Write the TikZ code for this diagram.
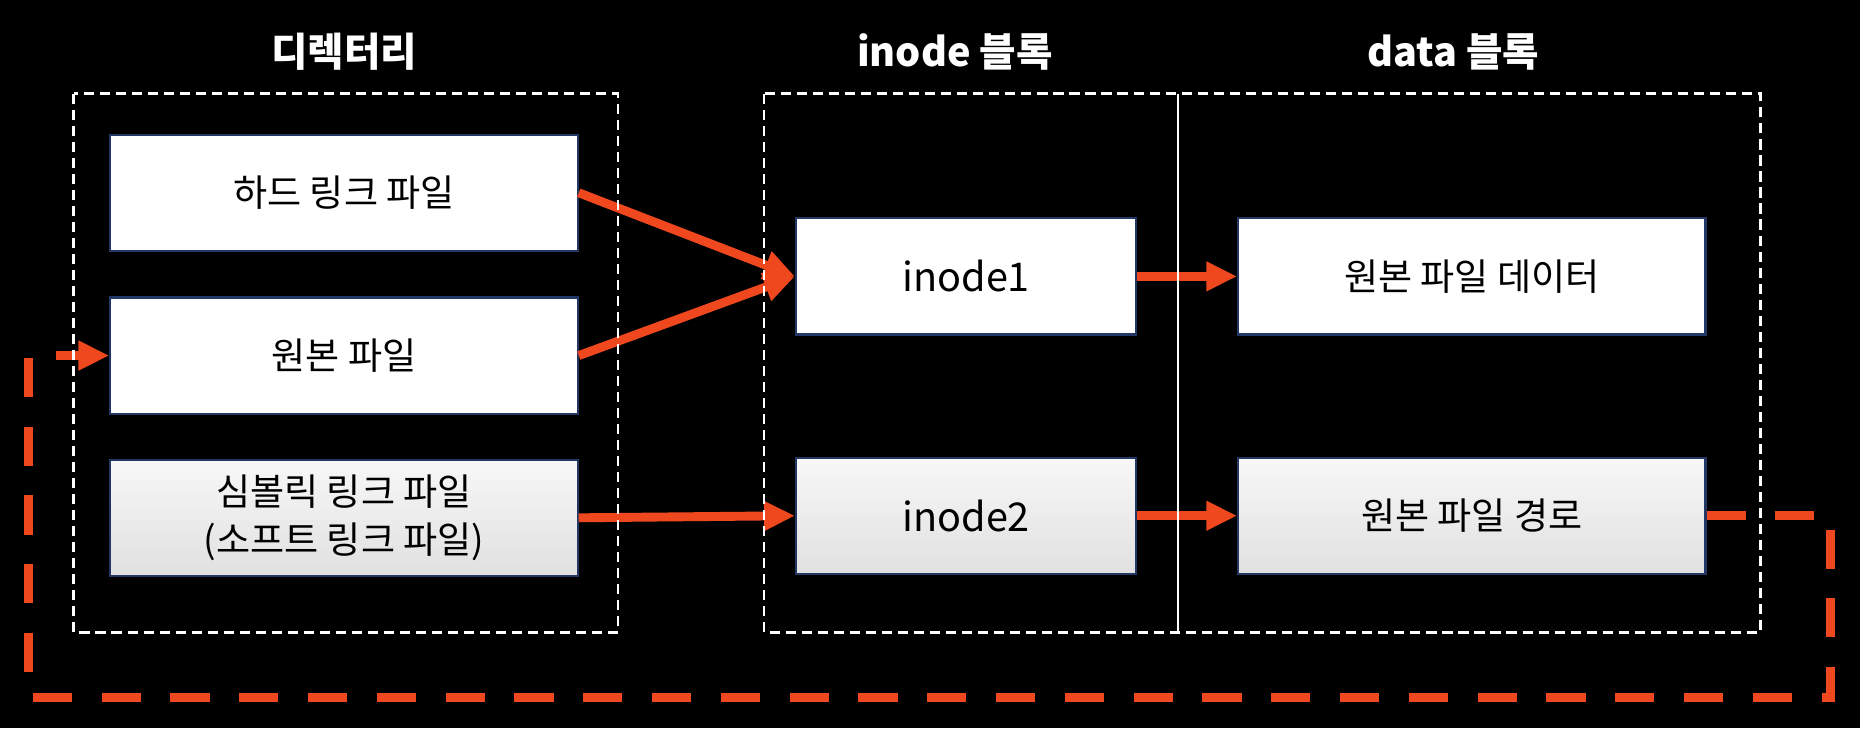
\documentclass[tikz,border=0pt]{standalone}
\usepackage{fontspec}
\usepackage{tikz}
\usetikzlibrary{positioning,arrows.meta}
\newfontfamily\krfont{Noto Sans CJK KR}
\definecolor{linkred}{RGB}{240,72,30}
\definecolor{boxedge}{RGB}{35,55,100}

\begin{document}
\begin{tikzpicture}[x=0.1mm, y=0.1mm,
                    font=\krfont\fontsize{8.9}{11.4}\selectfont,
                    block/.style={rectangle, draw=boxedge, line width=0.5pt, fill=white,
                    text=black, align=center, inner sep=0pt,
                    minimum width=39.4mm, minimum height=9.8mm},
                    inodebox/.style={block, minimum width=28.7mm, font=\krfont\fontsize{9.5}{11.4}\selectfont},
                    shaded/.style={top color=white!97!black, bottom color=white!88!black},
                    title/.style={text=white, font=\krfont\bfseries\fontsize{9.5}{11}\selectfont},
                    link/.style={draw=linkred, line width=0.75mm, -{Triangle[length=2.6mm,width=2.35mm]}},
                    frame/.style={draw=white, line width=0.6pt, dash pattern=on 0.85mm off 0.5mm}]
    \fill[black] (0,0) rectangle (1568,-614);
    \useasboundingbox (0,0) rectangle (1568,-614);

    \node [title] (dirtitle) at (290,-44) {디렉터리};
    \node [title] (inodetitle) at (805,-44) {inode 블록};
    \node [title] (datatitle) at (1225,-44) {data 블록};

    \node [block] (hard) at (290,-162.5) {하드 링크 파일};
    \node [block, below=3.75mm of hard] (orig) {원본 파일};
    \node [block, shaded, below=3.7mm of orig] (sym) {심볼릭 링크 파일\\(소프트 링크 파일)};
    \node [inodebox] (inode1) at (814.5,-233) {inode1};
    \node [inodebox, shaded, below=10.2mm of inode1] (inode2) {inode2};
    \node [block, right=8.4mm of inode1] (data1) {원본 파일 데이터};
    \node [block, shaded, right=8.4mm of inode2] (data2) {원본 파일 경로};

    \draw [link] (hard.east) -- (inode1.west);
    \draw [link] (orig.east) -- (inode1.west);
    \draw [link] (sym.east) -- (inode2.west);
    \draw [link] (inode1.east) -- (data1.west);
    \draw [link] (inode2.east) -- (data2.west);

    % soft link path leads back to the original file
    \coordinate (loopR) at (1543,-588);
    \coordinate (loopL) at (24,-588);
    \draw [link, dash pattern=on 3.3mm off 2.5mm] (data2.east) -| (loopR) -- (loopL) |- (orig.west);

    \draw [frame] (62,-79) rectangle (521,-533);
    \draw [frame] (644,-79) rectangle (1484,-533);
    \draw [draw=white, line width=0.6pt] (993,-79) -- (993,-533);
\end{tikzpicture}
\end{document}
